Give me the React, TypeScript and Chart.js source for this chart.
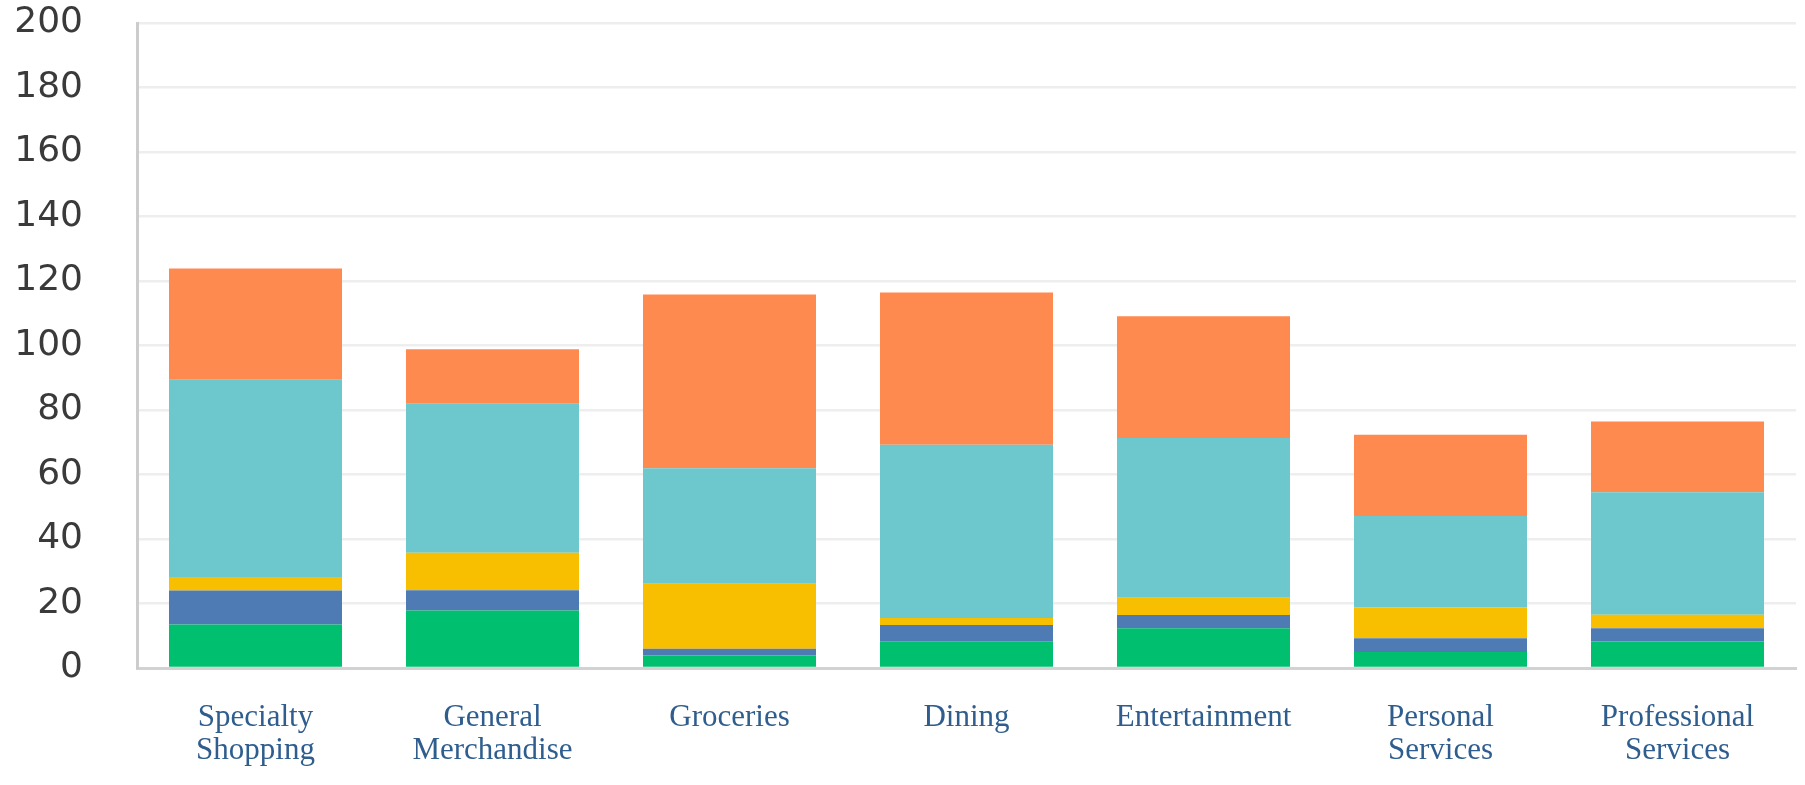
import React, { useEffect, useRef } from "react";
import { Chart, registerables } from "chart.js";

Chart.register(...registerables);

const categories: (string | string[])[] = [
  ["Specialty", "Shopping"],
  ["General", "Merchandise"],
  "Groceries",
  "Dining",
  "Entertainment",
  ["Personal", "Services"],
  ["Professional", "Services"],
];

const greenValues = [13.5, 17.8, 3.9, 8.3, 12.3, 5.0, 8.2];
const blueValues = [10.5, 6.3, 2.1, 5.0, 4.1, 4.2, 4.1];
const yellowValues = [4.2, 11.6, 20.1, 2.2, 5.4, 9.6, 4.2];
const tealValues = [61.2, 46.2, 35.8, 53.7, 49.5, 28.3, 38.0];
const orangeValues = [34.5, 16.9, 53.9, 47.2, 37.8, 25.2, 21.9];

const yMin = 0;
const yMax = 200;
const yStep = 20;

export default function App() {
  const canvasRef = useRef<HTMLCanvasElement | null>(null);

  useEffect(() => {
    if (!canvasRef.current) return;
    const chart = new Chart(canvasRef.current, {
      type: "bar",
      data: {
        labels: categories,
        datasets: [
          { label: "Series 1", data: greenValues, backgroundColor: "#00BF6F" },
          { label: "Series 2", data: blueValues, backgroundColor: "#4E7BB4" },
          { label: "Series 3", data: yellowValues, backgroundColor: "#F8BE00" },
          { label: "Series 4", data: tealValues, backgroundColor: "#6CC8CC" },
          { label: "Series 5", data: orangeValues, backgroundColor: "#FF8A50" },
        ],
      },
      options: {
        animation: false,
        responsive: false,
        maintainAspectRatio: false,
        layout: { padding: { top: 23, right: 9, bottom: 0, left: 0 } },
        datasets: {
          bar: { categoryPercentage: 1, barPercentage: 0.73 },
        },
        plugins: {
          legend: { display: false },
          tooltip: { enabled: false },
        },
        scales: {
          x: {
            stacked: true,
            grid: { display: false, drawTicks: false },
            border: { display: true, color: "#d2d2d2", width: 3 },
            ticks: {
              padding: 34,
              color: "#2e5d8e",
              maxRotation: 0,
              autoSkip: false,
              font: { family: "'Liberation Serif', 'Times New Roman', serif", size: 31, lineHeight: 1.04 },
            },
            afterFit: (scale: any) => {
              scale.height = 117;
            },
          },
          y: {
            stacked: true,
            min: yMin,
            max: yMax,
            grid: { color: "#eeeeee", lineWidth: 2.5, drawTicks: false },
            border: { display: true, color: "#cccccc", width: 3 },
            ticks: {
              stepSize: yStep,
              padding: 54,
              color: "#3a3a3a",
              font: { family: "'DejaVu Sans', sans-serif", size: 36 },
            },
            afterFit: (scale: any) => {
              scale.width = 137;
              scale.paddingTop = 0;
              scale.paddingBottom = 0;
            },
          },
        },
      },
    });
    return () => chart.destroy();
  }, []);

  return (
    <div style={{ position: "fixed", left: 0, top: 0, width: 1805, height: 785, background: "#ffffff" }}>
      <canvas ref={canvasRef} width={1805} height={785} style={{ display: "block" }} />
    </div>
  );
}
